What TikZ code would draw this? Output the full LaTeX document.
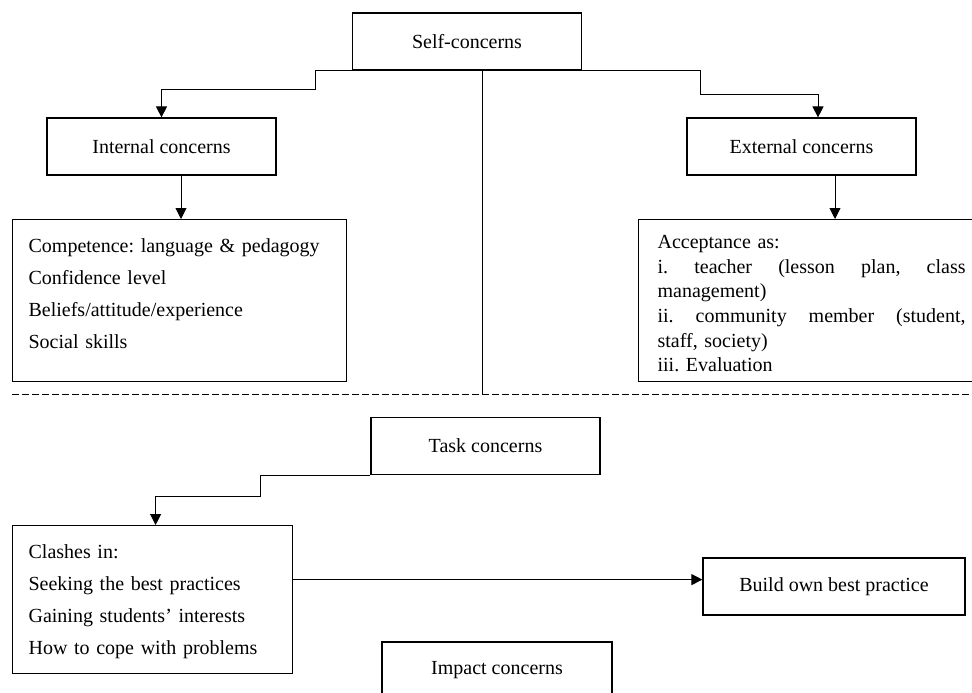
\documentclass[tikz,border=0pt]{standalone}
\usepackage{fontspec}
\setmainfont{Liberation Serif}
\usetikzlibrary{arrows.meta}
\frenchspacing

% empty struts that give a list box its top and bottom margin
\newcommand{\topgap}[1]{\rule{0pt}{#1}}
\newcommand{\botgap}[1]{\rule[-#1]{0pt}{0pt}}
% one justified line of the given width
\newcommand{\fullline}[2]{\leavevmode\hbox to #1{#2}}

\tikzset{
  box/.style={draw, line width=1.2pt, minimum width=229pt, minimum height=57pt,
    inner sep=0pt, font=\fontsize{20}{24}\selectfont},
  listbox/.style={draw, line width=1.2pt, anchor=north west, align=left,
    inner xsep=16pt, inner ysep=0pt, font=\fontsize{20}{32}\selectfont},
  link/.style={line width=0.9pt, -{Triangle[length=11pt,width=11pt]}},
  rail/.style={line width=0.9pt},
}

\begin{document}
\begin{tikzpicture}[x=1pt, y=-1pt]
    \clip (0,0) rectangle (972,693);
    % Self-concerns and its two branches
    \node[box] (self) at (467,41.5) {Self-concerns};
    \node[box] (internal) at (161.5,146.5) {Internal concerns};
    \node[box] (external) at (801.5,146.5) {External concerns};
    \node[listbox, text width=302pt] (competence) at (12,219)
        {\topgap{33pt}Competence: language \& pedagogy\\
         Confidence level\\
         Beliefs/attitude/experience\\
         Social skills\botgap{33pt}};
    \node[listbox, text width=308pt, inner xsep=19pt,
          font=\fontsize{20}{24.6}\selectfont] (acceptance) at (638,219)
        {\topgap{29pt}Acceptance as:\\
         \fullline{308pt}{i.\hfill teacher\hfill (lesson\hfill plan,\hfill class}\\
         management)\\
         \fullline{308pt}{ii.\hfill community\hfill member\hfill (student,}\\
         staff, society)\\
         iii. Evaluation\botgap{10pt}};
    \coordinate (lbend) at (315,89);
    \coordinate (rbend) at (700,94);
    \draw[link] (self.south west) -| (lbend) -| (internal.north);
    \draw[link] (self.south east) -| (rbend) -| ([xshift=16.5pt]external.north);
    \draw[link] ([xshift=19.5pt]internal.south) -- ([xshift=19.5pt]internal.south |- competence.north);
    \draw[link] ([xshift=33.5pt]external.south) -- ([xshift=33.5pt]external.south |- acceptance.north);
    % divider
    \coordinate (divl) at (12,394);
    \coordinate (divr) at (972,394);
    \draw[rail] ([xshift=15pt]self.south) -- ([xshift=15pt]self.south |- divl);
    \draw[rail, dash pattern=on 7pt off 3pt] (divl) -- (divr);
    % Task concerns
    \node[box] (task) at (485.5,446) {Task concerns};
    \node[listbox, text width=248pt] (clashes) at (12,525)
        {\topgap{33pt}Clashes in:\\
         Seeking the best practices\\
         Gaining students' interests\\
         How to cope with problems\botgap{19pt}};
    \node[box, minimum width=262pt] (build) at (834,586.5) {Build own best practice};
    \coordinate (tbend) at (260,496);
    \draw[link] (task.south west) -| (tbend) -| ([xshift=3pt]clashes.north);
    \draw[link] ([yshift=20pt]clashes.east) -- ([yshift=20pt]clashes.east -| build.west);
    % Impact concerns
    \node[box, minimum width=230pt] (impact) at (497,670.5) {Impact concerns};
\end{tikzpicture}
\end{document}
